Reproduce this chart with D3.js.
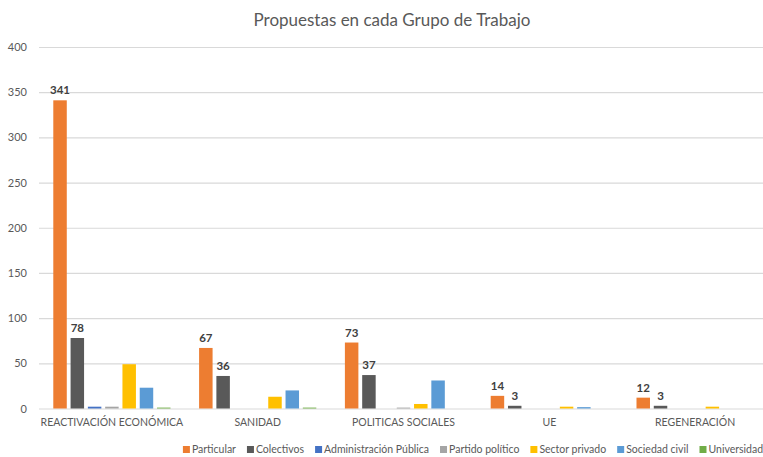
<!DOCTYPE html>
<html>
<head>
<meta charset="utf-8">
<script src="https://cdn.jsdelivr.net/npm/d3@7"></script>
<style>
  body { margin: 0; background: #fff; }
  text { font-family: Lato, "Open Sans", sans-serif; }
</style>
</head>
<body>
<div id="chart"></div>
<script>
const categories = ["REACTIVACIÓN ECONÓMICA", "SANIDAD", "POLITICAS SOCIALES", "UE", "REGENERACIÓN"];
const seriesNames = ["Particular", "Colectivos", "Administración Pública", "Partido político", "Sector privado", "Sociedad civil", "Universidad"];
const particular = [341, 67, 73, 14, 12];
const colectivos = [78, 36, 37, 3, 3];
const administracion = [2, 0, 0, 0, 0];
const partido = [2, 0, 1, 0, 0];
const sectorPrivado = [49, 13, 5, 2, 2];
const sociedadCivil = [23, 20, 31, 1.5, 0];
const universidad = [1, 1, 0, 0, 0];
const yTicks = [0, 50, 100, 150, 200, 250, 300, 350, 400];
const labelledSeries = ["Particular", "Colectivos"];

const colors = ["#ED7D31", "#595959", "#4472C4", "#A5A5A5", "#FFC000", "#5B9BD5", "#70AD47"];
const allValues = [particular, colectivos, administracion, partido, sectorPrivado, sociedadCivil, universidad];

const width = 763, height = 457;
const margin = { top: 47, left: 39, bottom: 48.5 };
const plotRight = 768;

const svg = d3.select("#chart").append("svg")
    .attr("width", width)
    .attr("height", height);

const x0 = d3.scaleBand()
    .domain(categories)
    .range([margin.left, plotRight])
    .paddingInner(0.17)
    .paddingOuter(0.085);

const x1 = d3.scaleBand()
    .domain(seriesNames)
    .range([0, x0.bandwidth()])
    .paddingInner(0.22)
    .paddingOuter(0.11);

const y = d3.scaleLinear()
    .domain([0, 400])
    .range([height - margin.bottom, margin.top]);

const color = d3.scaleOrdinal().domain(seriesNames).range(colors);

// title
svg.append("text")
    .attr("x", 392)
    .attr("y", 26)
    .attr("text-anchor", "middle")
    .style("font-size", "17px")
    .style("fill", "#595959")
    .text("Propuestas en cada Grupo de Trabajo");

// gridlines + y labels
const yAxis = svg.append("g")
    .attr("transform", `translate(${margin.left},0)`)
    .call(d3.axisLeft(y).tickValues(yTicks).tickSize(-(plotRight - margin.left)).tickPadding(12));
yAxis.select(".domain").remove();
yAxis.selectAll(".tick line").attr("stroke", "#d9d9d9").attr("stroke-width", 1.2);
yAxis.selectAll(".tick text")
    .style("font-size", "11px")
    .style("fill", "#595959")
    .style("font-family", "Lato, sans-serif");

// category labels
const xAxis = svg.append("g")
    .attr("transform", `translate(0,${y(0)})`)
    .call(d3.axisBottom(x0).tickSize(0).tickPadding(10));
xAxis.select(".domain").remove();
xAxis.selectAll(".tick text")
    .style("font-size", "10.5px")
    .style("fill", "#595959")
    .style("font-family", "Lato, sans-serif");

// bars
const rows = categories.map((c, i) => ({
    cat: c,
    vals: seriesNames.map((s, j) => ({ series: s, value: allValues[j][i] }))
}));

const groups = svg.selectAll(".grp")
    .data(rows)
    .enter().append("g")
    .attr("class", "grp")
    .attr("transform", d => `translate(${x0(d.cat)},0)`);

groups.selectAll("rect")
    .data(d => d.vals)
    .enter().append("rect")
    .attr("x", d => x1(d.series))
    .attr("y", d => y(d.value))
    .attr("width", x1.bandwidth())
    .attr("height", d => y(0) - y(d.value))
    .attr("fill", d => color(d.series));

groups.selectAll(".lbl")
    .data(d => d.vals.filter(v => labelledSeries.includes(v.series)))
    .enter().append("text")
    .attr("class", "lbl")
    .attr("x", d => x1(d.series) + x1.bandwidth() / 2)
    .attr("y", d => y(d.value) - 6)
    .attr("text-anchor", "middle")
    .style("font-size", "11.5px")
    .style("font-weight", "bold")
    .style("fill", "#404040")
    .text(d => d.value);

// legend
const legend = svg.append("g");
const items = legend.selectAll(".leg")
    .data(seriesNames)
    .enter().append("g")
    .attr("class", "leg");
items.append("rect")
    .attr("width", 7)
    .attr("height", 7)
    .attr("y", -7)
    .attr("fill", d => color(d));
items.append("text")
    .attr("x", 9)
    .attr("y", 0)
    .style("font-size", "10.5px")
    .style("fill", "#595959")
    .text(d => d);

let pos = 0;
items.each(function() {
    d3.select(this).attr("transform", `translate(${pos},0)`);
    pos += 9 + this.querySelector("text").getComputedTextLength() + 11;
});
pos -= 11;
legend.attr("transform", `translate(${473 - pos / 2},453)`);
</script>
</body>
</html>
